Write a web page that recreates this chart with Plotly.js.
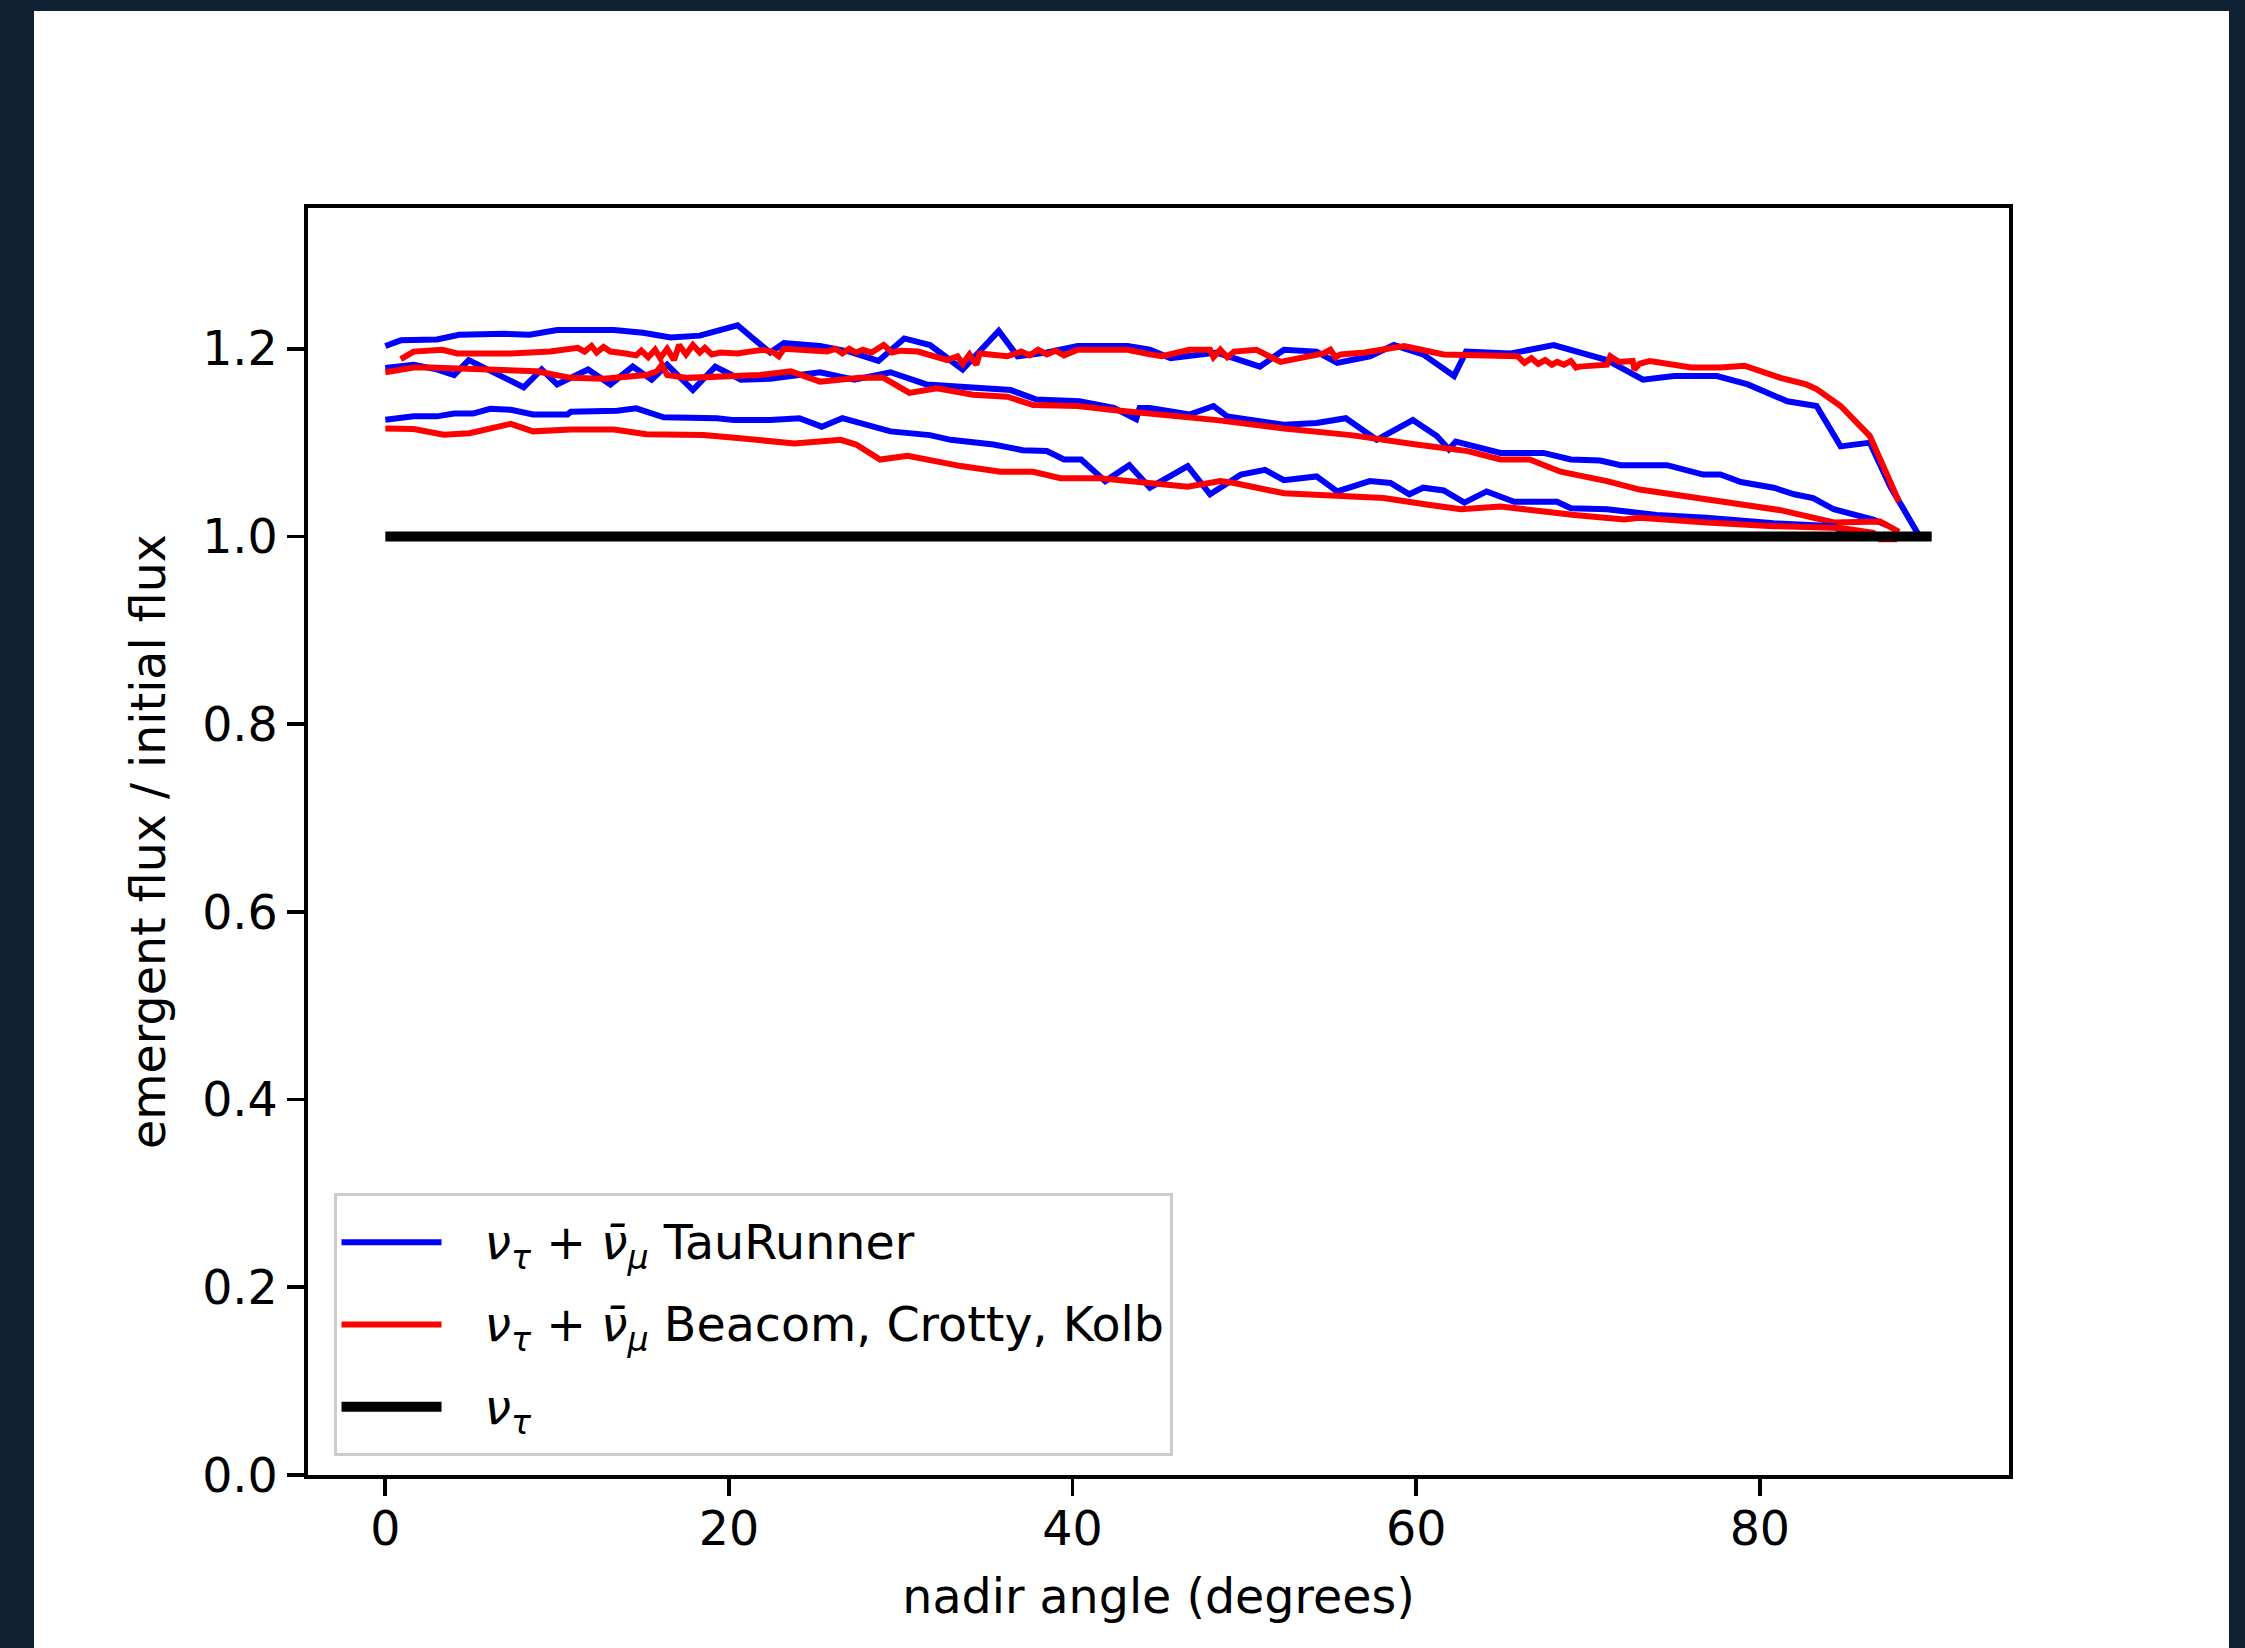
<!DOCTYPE html>
<html><head><meta charset="utf-8">
<script src="https://cdn.plot.ly/plotly-3.0.1.min.js"></script>
<style>
html,body{margin:0;padding:0;background:#0f2132;width:2245px;height:1648px;overflow:hidden}
#frame{position:absolute;left:34px;top:11px;width:2195px;height:1637px;background:#fff}
#chart{width:2195px;height:1637px}
</style></head>
<body><div id="frame"><div id="chart"></div></div>
<script>
// Top blue (TauRunner)
const b1x = [0,0.9,3.0,4.3,6.9,8.4,10.0,13.3,15.0,16.6,18.3,20.5,21.6,22.4,23.2,25.3,27.0,28.7,30.2,31.7,33.6,35.7,36.8,38.5,40.3,43.2,44.5,45.7,48.4,50.9,52.3,54.2,55.4,57.3,58.7,60.4,62.2,62.9,65.5,68.0,71.1,73.2,75.0,77.5,79.3,81.6,83.3,84.7,86.4,87.6,89.2];
const b1y = [1.203,1.209,1.210,1.215,1.216,1.215,1.220,1.220,1.217,1.212,1.214,1.225,1.208,1.196,1.206,1.203,1.197,1.187,1.211,1.204,1.178,1.219,1.192,1.196,1.203,1.203,1.199,1.190,1.196,1.181,1.199,1.197,1.185,1.192,1.204,1.194,1.171,1.197,1.195,1.204,1.188,1.167,1.171,1.171,1.162,1.144,1.139,1.096,1.100,1.053,1.003];
// Top red (Beacom, Crotty, Kolb)
const r1x = [0.9,1.65,3.3,4.2,7.3,9.6,11.2,11.6,12.0,12.3,12.7,13.1,14.0,14.6,14.9,15.3,15.7,16.0,16.4,16.8,17.1,17.5,17.9,18.3,18.6,19.0,19.5,20.5,21.2,22.0,22.6,22.9,23.2,24.5,25.7,26.2,26.6,27.0,27.4,27.8,28.3,29.0,29.5,30.0,31.0,32.7,33.3,33.6,34.0,34.4,34.6,36.2,37.0,37.5,38.0,38.5,39.0,39.5,40.3,41.5,43.2,44.5,45.2,46.8,48.0,48.2,48.6,49.0,49.4,50.7,52.1,54.6,55.0,55.3,55.6,57.0,59.3,61.6,65.9,66.3,66.7,67.1,67.5,67.9,68.2,68.6,69.0,69.3,69.5,71.1,71.3,71.8,72.3,72.6,72.7,73.0,73.6,76.0,77.7,79.1,81.2,82.7,83.3,84.7,86.4,87.2,88.1];
const r1y = [1.189,1.197,1.199,1.195,1.195,1.197,1.201,1.197,1.203,1.196,1.202,1.197,1.195,1.193,1.198,1.191,1.199,1.190,1.200,1.188,1.204,1.194,1.204,1.196,1.201,1.194,1.196,1.195,1.197,1.199,1.196,1.192,1.200,1.198,1.197,1.200,1.195,1.200,1.196,1.199,1.196,1.204,1.196,1.198,1.197,1.188,1.192,1.184,1.194,1.183,1.195,1.192,1.197,1.193,1.199,1.194,1.198,1.193,1.199,1.199,1.199,1.194,1.192,1.199,1.199,1.191,1.199,1.191,1.197,1.199,1.186,1.195,1.199,1.191,1.194,1.196,1.203,1.194,1.192,1.185,1.190,1.184,1.188,1.183,1.186,1.183,1.187,1.180,1.181,1.183,1.192,1.186,1.187,1.187,1.178,1.184,1.187,1.180,1.180,1.182,1.169,1.162,1.157,1.139,1.107,1.075,1.037];
// Middle blue
const b2x = [0,1.65,3.0,4.0,4.85,6.3,8.05,9.1,10.0,11.8,13.1,14.4,15.5,16.4,17.9,19.2,20.7,22.4,23.8,25.3,27.3,29.4,31.5,33.5,36.4,37.9,40.4,42.4,43.7,43.9,44.5,46.8,48.2,49.0,52.3,54.2,55.9,57.7,59.8,61.2,61.9,62.3,64.9,67.4,69.0,70.7,71.9,74.6,76.7,77.7,78.9,80.8,82.0,83.1,84.3,86.6,87.4];
const b2y = [1.1795,1.183,1.178,1.172,1.188,1.175,1.159,1.178,1.162,1.178,1.162,1.181,1.167,1.183,1.156,1.181,1.167,1.168,1.171,1.175,1.167,1.175,1.162,1.159,1.156,1.146,1.144,1.137,1.125,1.137,1.137,1.130,1.139,1.128,1.119,1.121,1.126,1.103,1.124,1.107,1.093,1.101,1.089,1.089,1.082,1.081,1.076,1.076,1.066,1.066,1.058,1.052,1.045,1.041,1.029,1.018,1.012];
// Middle red
const r2x = [0,1.65,2.6,4.9,7.3,8.8,10.8,12.7,15.2,15.8,16.1,16.4,17.6,19.5,21.8,23.6,25.3,27.6,29.0,30.5,32.1,34.2,36.2,37.7,40.3,42.2,45.1,46.8,48.4,52.3,56.2,60.0,63.0,64.9,66.6,68.4,71.1,73.0,75.0,76.9,79.3,81.2,84.3,87.0,88.1];
const r2y = [1.175,1.180,1.180,1.178,1.177,1.176,1.169,1.168,1.172,1.176,1.183,1.172,1.169,1.171,1.172,1.176,1.165,1.169,1.169,1.153,1.158,1.151,1.149,1.140,1.139,1.135,1.130,1.128,1.124,1.115,1.108,1.098,1.091,1.082,1.082,1.069,1.059,1.050,1.045,1.040,1.033,1.028,1.015,1.016,1.005];
// Bottom blue
const b3x = [0,1.65,3.0,4.0,5.1,6.1,7.3,8.6,10.6,10.8,13.5,14.6,16.2,19.3,20.3,22.4,24.1,25.4,26.6,29.4,31.7,32.9,35.4,37.1,38.5,39.5,40.5,41.9,43.3,44.5,46.7,48.0,49.8,51.2,52.3,54.2,55.4,57.3,58.5,59.6,60.4,61.6,62.8,64.1,65.7,68.2,69.0,71.1,74.0,76.9,80.8,84.3,85.0];
const b3y = [1.1244,1.128,1.128,1.131,1.131,1.136,1.135,1.130,1.130,1.133,1.134,1.1365,1.127,1.126,1.124,1.124,1.126,1.117,1.126,1.112,1.108,1.103,1.098,1.092,1.091,1.082,1.082,1.059,1.076,1.052,1.075,1.045,1.066,1.071,1.060,1.064,1.048,1.059,1.057,1.045,1.052,1.049,1.036,1.048,1.037,1.037,1.030,1.029,1.023,1.020,1.014,1.011,1.003];
// Bottom red
const r3x = [0,1.65,3.4,4.9,7.3,8.6,10.8,13.3,15.2,18.5,20.5,22.4,23.8,26.5,27.4,28.8,30.4,33.5,35.8,37.7,39.3,41.6,44.1,46.7,48.6,49.4,52.3,56.2,58.1,60.6,62.6,64.9,67.8,69.2,72.1,73.0,76.9,80.8,84.7,86.6,87.0,88.0];
const r3y = [1.115,1.1145,1.1084,1.110,1.120,1.112,1.114,1.114,1.109,1.108,1.105,1.102,1.099,1.103,1.098,1.082,1.086,1.075,1.069,1.069,1.062,1.062,1.057,1.053,1.059,1.057,1.046,1.043,1.041,1.034,1.029,1.032,1.025,1.023,1.018,1.020,1.015,1.011,1.009,1.004,0.997,0.997];
// nu_tau alone
const kx = [0, 90];
const ky = [1.0, 1.0];

const xTicks = [0, 20, 40, 60, 80];
const yTicks = [0.0, 0.2, 0.4, 0.6, 0.8, 1.0, 1.2];

const F = 'DejaVu Sans, sans-serif';
const FS = 47.5;
const pre = '<span style="font-size:' + FS + 'px;baseline-shift:7px">\u2002\u2009\u200A';
const post = '</span>';
const nu = '<i>ν</i><sub><i>τ</i></sub>';
const nameBlue = pre + nu + ' + <i>ν̄</i><sub><i>μ</i></sub> TauRunner' + post;
const nameRed = pre + nu + ' + <i>ν̄</i><sub><i>μ</i></sub> Beacom, Crotty, Kolb' + post;
const nameBlack = pre + nu + post;

function tr(x, y, color, w, name, show) {
  return {x: x, y: y, type: 'scatter', mode: 'lines', name: name, showlegend: show,
    line: {color: color, width: w}, hoverinfo: 'skip'};
}
const data = [
  tr(b1x, b1y, '#0000ff', 6, nameBlue, true),
  tr(r1x, r1y, '#ff0000', 6, nameRed, true),
  tr(b2x, b2y, '#0000ff', 6, nameBlue, false),
  tr(r2x, r2y, '#ff0000', 6, nameRed, false),
  tr(b3x, b3y, '#0000ff', 6, nameBlue, false),
  tr(r3x, r3y, '#ff0000', 6, nameRed, false),
  tr(kx, ky, '#000000', 10, nameBlack, true)
];
const axisCommon = {
  showgrid: false, zeroline: false, showline: true, mirror: true,
  linecolor: '#000', linewidth: 3.8, ticks: 'outside', ticklen: 17, tickwidth: 3.8, tickcolor: '#000',
  tickfont: {family: F, size: FS, color: '#000'}
};
const layout = {
  width: 2195, height: 1637,
  margin: {l: 274, r: 220, t: 197, b: 173},
  paper_bgcolor: '#ffffff', plot_bgcolor: '#ffffff',
  font: {family: F, size: FS, color: '#000'},
  xaxis: Object.assign({}, axisCommon, {
    range: [-4.5, 94.5], tickmode: 'array', tickvals: xTicks, ticktext: xTicks.map(String),
    ticklabelstandoff: -8,
    title: {text: 'nadir angle (degrees)', font: {family: F, size: FS, color: '#000'}, standoff: 26}
  }),
  yaxis: Object.assign({}, axisCommon, {
    range: [0, 1.35], tickmode: 'array', tickvals: yTicks, ticktext: yTicks.map(v => v.toFixed(1)),
    title: {text: 'emergent flux / initial flux', font: {family: F, size: FS, color: '#000'}, standoff: 22}
  }),
  legend: {
    x: 0.015, y: 0.2225, xanchor: 'left', yanchor: 'top',
    bgcolor: 'rgba(255,255,255,0.8)', bordercolor: '#cccccc', borderwidth: 3,
    font: {family: F, size: 61, color: '#000'}, itemwidth: 100, tracegroupgap: 0
  },
  showlegend: true
};
Plotly.newPlot('chart', data, layout, {displayModeBar: false, staticPlot: true});
</script>
</body></html>
